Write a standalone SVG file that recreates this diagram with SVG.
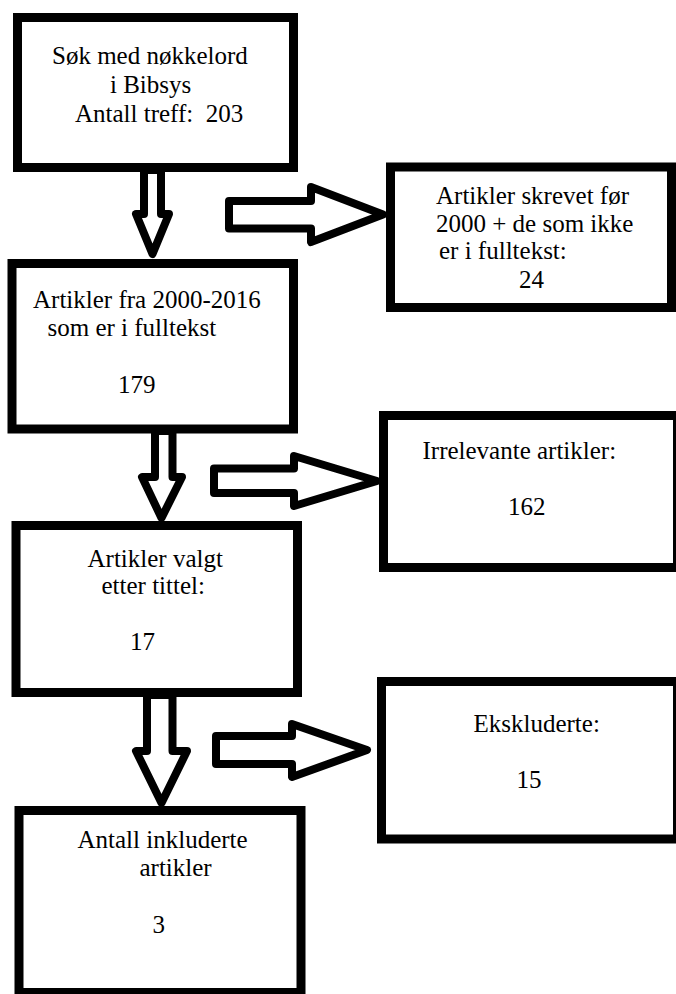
<svg xmlns="http://www.w3.org/2000/svg" width="676" height="994" viewBox="0 0 676 994">
<rect width="676" height="994" fill="#fff"/>
<g id="connectors" fill="#fff" stroke="#000" stroke-width="8" stroke-linejoin="round">
<polygon points="144,170 161,170 161,214 169,214 152.5,254 136,214 144,214"/>
<polygon points="229,201 311,201 311,187 383,214.5 311,242 311,228.5 229,228.5"/>
<polygon points="155,431 172.5,431 172.5,477 182,477 161.5,518 142,477 155,477"/>
<polygon points="214,468.5 294,468.5 294,456 377,481 294,506 294,493 214,493"/>
<polygon points="147,695 172.5,695 172.5,751 187,751 161.5,803 136,751 147,751"/>
<polygon points="216,736 292,736 292,724 367,750 292,777 292,764 216,764"/>
</g>
<g id="n1">
<rect x="17.5" y="17.5" width="276" height="150" fill="#fff" stroke="#000" stroke-width="9"/>
<text x="52" y="64" font-family="Liberation Serif" font-size="25" style="font-family:Liberation Serif">Søk med nøkkelord</text>
<text x="110" y="92.5" font-family="Liberation Serif" font-size="25" style="font-family:Liberation Serif">i Bibsys</text>
<text x="75" y="121.5" font-family="Liberation Serif" font-size="25" style="font-family:Liberation Serif" xml:space="preserve">Antall treff:  203</text>
</g>
<g id="n2">
<rect x="12" y="263.5" width="281.5" height="165.5" fill="#fff" stroke="#000" stroke-width="9"/>
<text x="33" y="308" font-family="Liberation Serif" font-size="25" style="font-family:Liberation Serif">Artikler fra 2000-2016</text>
<text x="47.5" y="336" font-family="Liberation Serif" font-size="25" style="font-family:Liberation Serif">som er i fulltekst</text>
<text x="118" y="393" font-family="Liberation Serif" font-size="25" style="font-family:Liberation Serif">179</text>
</g>
<g id="n3">
<rect x="16" y="525.5" width="281.5" height="167" fill="#fff" stroke="#000" stroke-width="9"/>
<text x="87.5" y="566.5" font-family="Liberation Serif" font-size="25" style="font-family:Liberation Serif">Artikler valgt</text>
<text x="101.5" y="594" font-family="Liberation Serif" font-size="25" style="font-family:Liberation Serif">etter tittel:</text>
<text x="130" y="650" font-family="Liberation Serif" font-size="25" style="font-family:Liberation Serif">17</text>
</g>
<g id="n4">
<rect x="19" y="810.5" width="282" height="182" fill="#fff" stroke="#000" stroke-width="9"/>
<text x="77.5" y="848" font-family="Liberation Serif" font-size="25" style="font-family:Liberation Serif">Antall inkluderte</text>
<text x="139.5" y="876" font-family="Liberation Serif" font-size="25" style="font-family:Liberation Serif">artikler</text>
<text x="152.5" y="933" font-family="Liberation Serif" font-size="25" style="font-family:Liberation Serif">3</text>
</g>
<g id="r1">
<rect x="390.5" y="167" width="281" height="140.5" fill="#fff" stroke="#000" stroke-width="9"/>
<text x="436" y="204" font-family="Liberation Serif" font-size="25" style="font-family:Liberation Serif">Artikler skrevet før</text>
<text x="436" y="231.5" font-family="Liberation Serif" font-size="25" style="font-family:Liberation Serif">2000 + de som ikke</text>
<text x="439" y="259" font-family="Liberation Serif" font-size="25" style="font-family:Liberation Serif">er i fulltekst:</text>
<text x="519" y="288" font-family="Liberation Serif" font-size="25" style="font-family:Liberation Serif">24</text>
</g>
<g id="r2">
<rect x="383.5" y="415.5" width="294" height="152" fill="#fff" stroke="#000" stroke-width="9"/>
<text x="422.5" y="459" font-family="Liberation Serif" font-size="25" style="font-family:Liberation Serif">Irrelevante artikler:</text>
<text x="508" y="515" font-family="Liberation Serif" font-size="25" style="font-family:Liberation Serif">162</text>
</g>
<g id="r3">
<rect x="381.5" y="681.5" width="296" height="157.5" fill="#fff" stroke="#000" stroke-width="9"/>
<text x="473.5" y="731.5" font-family="Liberation Serif" font-size="25" style="font-family:Liberation Serif">Ekskluderte:</text>
<text x="516.5" y="788" font-family="Liberation Serif" font-size="25" style="font-family:Liberation Serif">15</text>
</g>
</svg>
